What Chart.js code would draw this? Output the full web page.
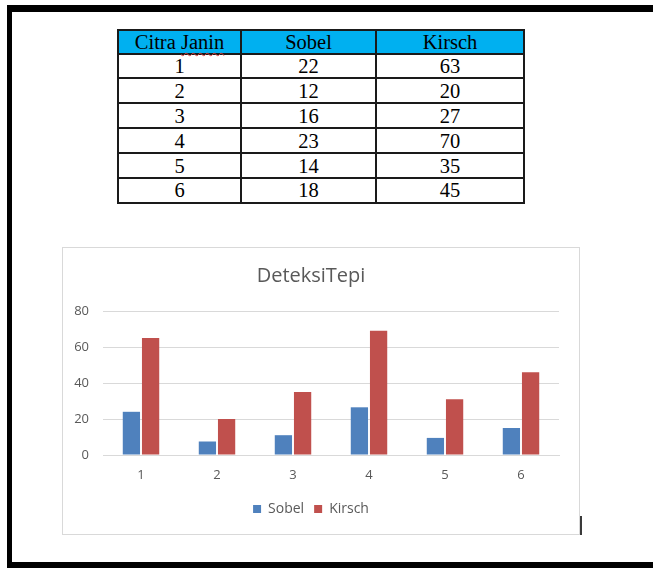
<!DOCTYPE html>
<html><head><meta charset="utf-8">
<script src="https://cdn.jsdelivr.net/npm/chart.js@4/dist/chart.umd.min.js"></script>
<style>
html,body{margin:0;padding:0;background:#fff;width:653px;height:568px;overflow:hidden;position:relative}
#frame{position:absolute;left:7px;top:5px;width:700px;height:550px;border-top:7px solid #000;border-left:5px solid #000;border-bottom:6px solid #000}
#tbl{position:absolute;left:117px;top:29px;width:406px;border-collapse:collapse;table-layout:fixed;font-family:"Liberation Serif","Times New Roman",serif;font-size:20.5px;color:#000}
#tbl td,#tbl th{border:2px solid #1a1a1a;padding:0;text-align:center;font-weight:normal;line-height:20px;height:22.9px}
#tbl th{background:#00B0F0;height:21.5px}
.sp{text-decoration:underline wavy #d43c3c;text-decoration-thickness:1px;text-underline-offset:3px}
#wrap{position:absolute;left:62px;top:247px;width:518px;height:288px;box-sizing:border-box;border:1px solid #D9D9D9;background:#fff}
#wrap canvas{display:block}
#mark{position:absolute;left:580px;top:516px;width:2px;height:19px;background:#3a3a3a}
</style></head>
<body>
<div id="frame"></div>
<table id="tbl">
<colgroup><col style="width:123px"><col style="width:135px"><col style="width:148px"></colgroup>
<thead><tr><th>Citra <span class="sp">Janin</span></th><th>Sobel</th><th>Kirsch</th></tr></thead>
<tbody id="tb"></tbody>
</table>
<div id="wrap"><canvas id="c" width="516" height="286"></canvas></div>
<div id="mark"></div>
<script>
// Table values (as printed in the table)
const tableImages = ['1','2','3','4','5','6'];
const tableSobel = [22, 12, 16, 23, 14, 18];
const tableKirsch = [63, 20, 27, 70, 35, 45];

// Chart values
const categories = ['1','2','3','4','5','6'];
const sobelValues = [24, 7.5, 11, 26.5, 9.5, 15];
const kirschValues = [65, 20, 35, 69, 31, 46];
const yTicks = [0, 20, 40, 60, 80];

const tb = document.getElementById('tb');
tableImages.forEach((c, i) => {
  const tr = document.createElement('tr');
  [c, tableSobel[i], tableKirsch[i]].forEach(v => {
    const td = document.createElement('td'); td.textContent = v; tr.appendChild(td);
  });
  tb.appendChild(tr);
});

const txt = '#595959';
new Chart(document.getElementById('c'), {
  type: 'bar',
  data: {
    labels: categories,
    datasets: [
      { label: 'Sobel', data: sobelValues, backgroundColor: '#4F81BD', categoryPercentage: 0.505, barPercentage: 0.9 },
      { label: 'Kirsch', data: kirschValues, backgroundColor: '#C0504D', categoryPercentage: 0.505, barPercentage: 0.9 }
    ]
  },
  options: {
    responsive: false,
    animation: false,
    devicePixelRatio: 1,
    layout: { padding: { left: 0, right: 20, top: 0, bottom: 8 } },
    plugins: {
      title: { display: true, text: 'DeteksiTepi', color: txt, font: { family: 'Open Sans', size: 20, weight: 'normal' }, padding: { top: 16, bottom: 23 } },
      legend: { position: 'bottom', labels: { color: txt, font: { family: 'Open Sans', size: 14 }, boxWidth: 8, boxHeight: 8, padding: 10 } },
      tooltip: { enabled: false }
    },
    scales: {
      x: {
        grid: { display: false, drawTicks: false },
        border: { display: true, color: '#D9D9D9' },
        ticks: { color: txt, font: { family: 'Open Sans', size: 13 }, padding: 12 },
        afterFit: s => { s.height = 37; }
      },
      y: {
        min: 0, max: 80,
        afterBuildTicks: s => { s.ticks = yTicks.map(v => ({ value: v })); },
        grid: { color: '#D9D9D9', drawTicks: false },
        border: { display: false },
        ticks: { color: txt, font: { family: 'Open Sans', size: 13 }, padding: 14 },
        afterFit: s => { s.width = 40; }
      }
    }
  }
});
</script>
</body></html>
